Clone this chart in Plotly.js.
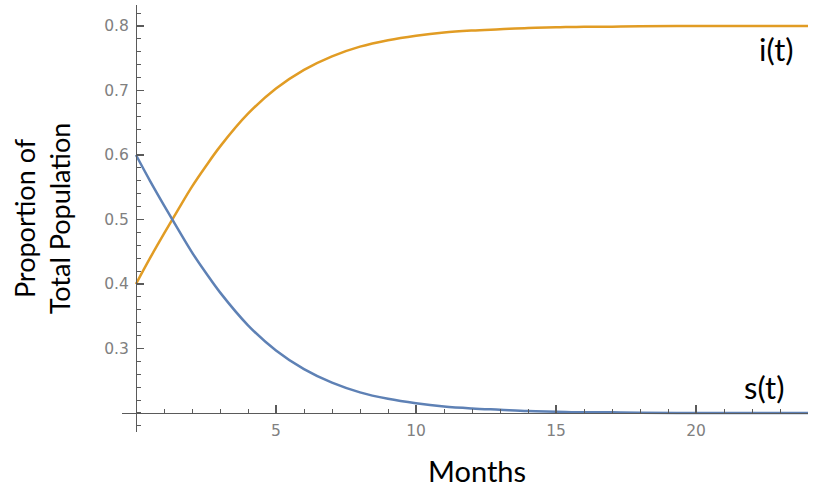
<!DOCTYPE html>
<html>
<head>
<meta charset="utf-8">
<script src="https://cdn.plot.ly/plotly-3.0.1.min.js"></script>
<style>html,body{margin:0;padding:0;background:#fff;}#chart{width:822px;height:487px;}</style>
</head>
<body>
<div id="chart"></div>
<script>
// Months (t)
const months = [0, 0.5, 1, 1.5, 2, 2.5, 3, 4, 5, 6, 7, 8, 9, 10, 11, 12, 13, 14, 15, 16, 17, 18, 20, 22, 24];
// i(t): infected proportion
const infected = [0.400, 0.440, 0.478, 0.515, 0.551, 0.583, 0.613, 0.664, 0.703, 0.732, 0.753, 0.768, 0.778, 0.785, 0.790, 0.793, 0.795, 0.797, 0.798, 0.799, 0.799, 0.7995, 0.800, 0.800, 0.800];
// s(t): susceptible proportion
const susceptible = [0.600, 0.560, 0.522, 0.485, 0.449, 0.417, 0.387, 0.336, 0.297, 0.268, 0.247, 0.232, 0.222, 0.215, 0.210, 0.207, 0.205, 0.203, 0.202, 0.201, 0.201, 0.2005, 0.200, 0.200, 0.200];
const xTickVals = [5, 10, 15, 20];
const yTickVals = [0.3, 0.4, 0.5, 0.6, 0.7, 0.8];
const yTickText = ['0.3', '0.4', '0.5', '0.6', '0.7', '0.8'];
const seriesLabels = ['i(t)', 's(t)'];
const xTitle = 'Months';
const yTitle = 'Proportion of<br>Total Population';

const xRange = [-0.5, 24];
const yRange = [0.1705, 0.8326];
const axisColor = '#5a5a5a';
const tickFont = {family: 'DejaVu Sans', size: 15.5, color: '#808080'};

const traces = [
  {x: months, y: infected, mode: 'lines', line: {color: '#E19C24', width: 2.5, shape: 'spline', smoothing: 1}, name: seriesLabels[0], hoverinfo: 'skip'},
  {x: months, y: susceptible, mode: 'lines', line: {color: '#5E81B5', width: 2.5, shape: 'spline', smoothing: 1}, name: seriesLabels[1], hoverinfo: 'skip'}
];

const layout = {
  width: 822, height: 487,
  margin: {l: 122, r: 14, t: 5, b: 55, pad: 0},
  paper_bgcolor: '#ffffff', plot_bgcolor: '#ffffff',
  showlegend: false,
  xaxis: {
    range: xRange, anchor: 'free', position: (0.2 - yRange[0]) / (yRange[1] - yRange[0]),
    showgrid: false, zeroline: false, showline: true, linecolor: axisColor, linewidth: 1.2,
    tickmode: 'array', tickvals: xTickVals, ticks: 'inside', ticklen: 8, tickwidth: 1.2, tickcolor: axisColor,
    minor: {tickmode: 'linear', tick0: 0, dtick: 1, ticks: 'inside', ticklen: 4, tickwidth: 1, tickcolor: axisColor, showgrid: false},
    tickfont: tickFont, ticklabelstandoff: 3
  },
  yaxis: {
    range: yRange, anchor: 'free', position: (0 - xRange[0]) / (xRange[1] - xRange[0]),
    showgrid: false, zeroline: false, showline: true, linecolor: axisColor, linewidth: 1.2,
    tickmode: 'array', tickvals: yTickVals, ticktext: yTickText, ticks: 'inside', ticklen: 7, tickwidth: 1.2, tickcolor: axisColor,
    minor: {tickmode: 'linear', tick0: 0, dtick: 0.02, ticks: 'inside', ticklen: 4, tickwidth: 1, tickcolor: axisColor, showgrid: false},
    tickfont: tickFont, ticklabelstandoff: 4,
    title: {text: yTitle, font: {family: 'Lato', size: 27, color: '#000'}, standoff: 24}
  },
  annotations: [
    {x: 22.86, y: 0.764, xref: 'x', yref: 'y', text: seriesLabels[0], showarrow: false, font: {family: 'Lato', size: 31, color: '#000'}},
    {x: 22.45, y: 0.240, xref: 'x', yref: 'y', text: seriesLabels[1], showarrow: false, font: {family: 'Lato', size: 31, color: '#000'}},
    {x: (477 - 122) / 686, y: -0.091, xref: 'paper', yref: 'paper', text: xTitle, showarrow: false, xanchor: 'center', yanchor: 'middle', font: {family: 'Lato', size: 29, color: '#000'}}
  ]
};

Plotly.newPlot('chart', traces, layout, {staticPlot: true, displayModeBar: false});
</script>
</body>
</html>
